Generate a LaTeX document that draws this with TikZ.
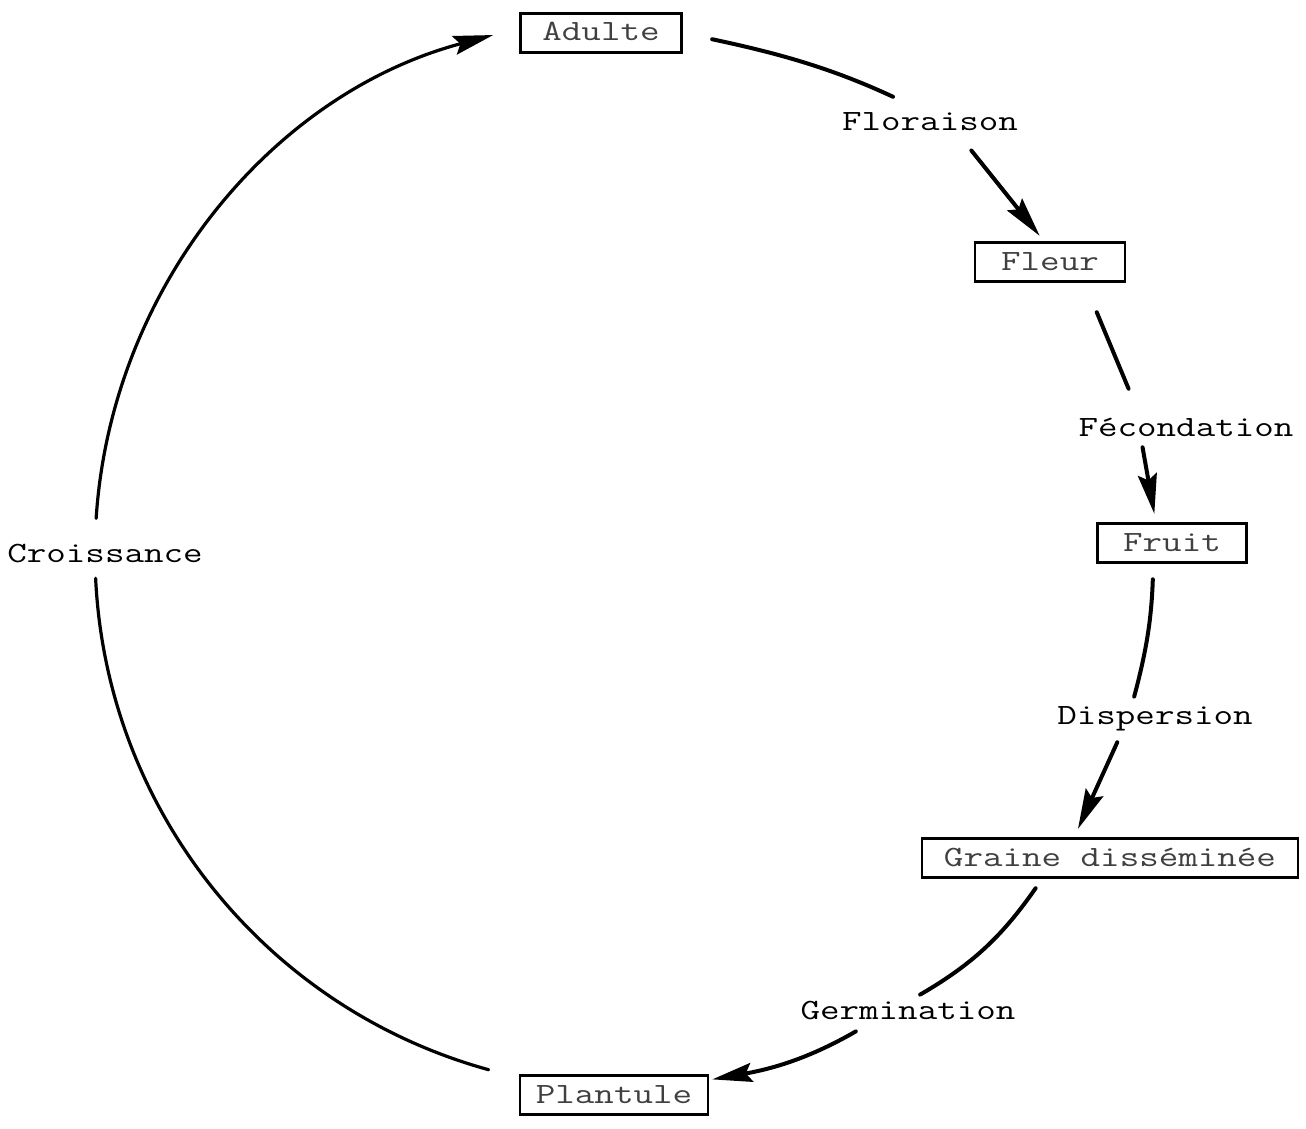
\documentclass[tikz,border=0pt]{standalone}
\usepackage{fontspec}
\usepackage{tikz}
\usetikzlibrary{arrows.meta}
\newfontfamily\typeFont[FakeStretch=1.29]{Latin Modern Mono}

\begin{document}
\begin{tikzpicture}[x=0.5pt,y=0.5pt,
    stage/.style={draw, line width=1.2pt, inner xsep=11pt, inner ysep=2.75pt,
        text height=11pt, text depth=3pt, text=black!75,
        font={\typeFont\fontsize{14.7}{16}\selectfont}},
    process/.style={inner sep=0pt, text height=11pt, text depth=3pt,
        font={\typeFont\fontsize{14.7}{16}\selectfont}},
    flow/.style={line width=2pt, line cap=round},
    flowtip/.style={flow, -{Stealth[length=20pt,width=9.5pt,inset=3pt]}}]
    \useasboundingbox (0,0) rectangle (1306,-1129);

    % stages of the cycle
    \node[stage] (adulte) at (601,-33) {Adulte};
    \node[stage, minimum width=75pt] (fleur) at (1050,-262) {Fleur};
    \node[stage, minimum width=74.5pt] (fruit) at (1172,-543) {Fruit};
    \node[stage] (graine) at (1110,-858) {Graine disséminée};
    \node[stage, inner xsep=8pt] (plantule) at (614,-1095) {Plantule};

    % what happens between them
    \node[process] (flor) at (930,-123) {Floraison};
    \node[process] (fecond) at (1186,-428) {Fécondation};
    \node[process] (disp) at (1155,-716) {Dispersion};
    \node[process] (germ) at (908,-1011) {Germination};
    \node[process] (croiss) at (105,-554) {Croissance};

    \draw[flow, shorten <=15pt, shorten >=14pt] (adulte.east) to[out=-12,in=155] (flor.129);
    \draw[flowtip, shorten <=8.4pt, shorten >=3.5pt] (flor.-25) -- (fleur.106);
    \draw[flow, shorten <=16pt, shorten >=13.5pt] (fleur.-31) -- (fecond.163);
    \draw[flowtip, shorten <=2.5pt, shorten >=4.3pt] (fecond.198) -- (fruit.128);
    \draw[flow, shorten <=7.8pt, shorten >=2.6pt] (fruit.228) to[out=-92,in=75] (disp.147);
    \draw[flowtip, shorten <=6.5pt, shorten >=4.6pt] (disp.204) -- (graine.150);
    \draw[flow, shorten <=5.8pt, shorten >=2pt] (graine.197) to[out=235,in=30] (germ.59);
    \draw[flowtip, shorten <=6pt, shorten >=1.5pt] (germ.199) to[out=210,in=10] (plantule.9);

    % big arc on the left, broken by Croissance
    \coordinate (O) at (631,-553);
    \draw[flow, line width=1.6pt] (O) ++(254.6:536)
        arc[start angle=254.6, end angle=182.7, radius=536];
    \draw[flowtip, line width=1.6pt] (O) ++(176.3:536)
        arc[start angle=176.3, end angle=104.9, radius=536];
\end{tikzpicture}
\end{document}
